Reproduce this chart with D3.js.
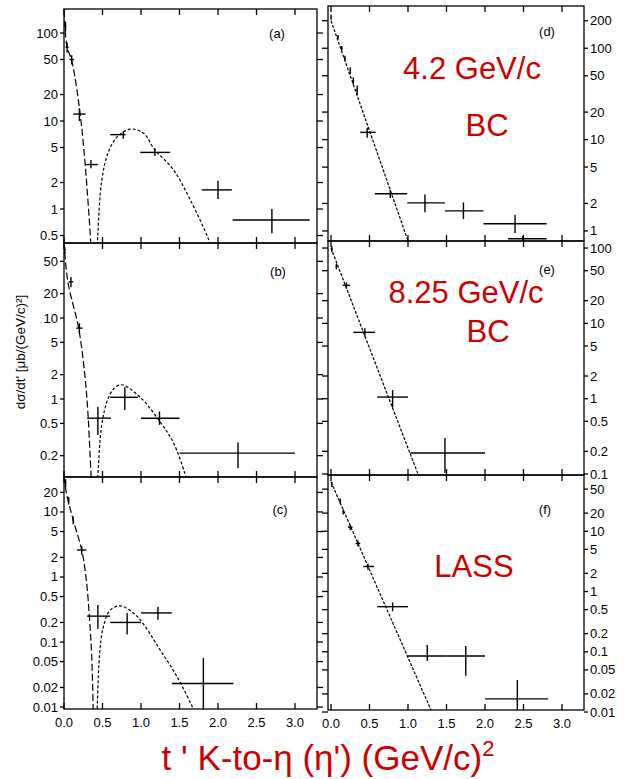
<!DOCTYPE html>
<html>
<head>
<meta charset="utf-8">
<script src="https://cdn.jsdelivr.net/npm/d3@7"></script>
<style>
  body { margin: 0; background: #fff; }
  svg { display: block; }
  text { font-family: "Liberation Sans", Arial, sans-serif; }
</style>
</head>
<body>
<svg id="chart" width="624" height="779"></svg>
<script>
// x ticks shared by all panels
const xTicks = [0, 0.5, 1, 1.5, 2, 2.5, 3];

// y tick values per panel
const ticksA = [100, 50, 20, 10, 5, 2, 1, 0.5];
const ticksB = [50, 20, 10, 5, 2, 1, 0.5, 0.2];
const ticksC = [20, 10, 5, 2, 1, 0.5, 0.2, 0.1, 0.05, 0.02, 0.01];
const ticksD = [200, 100, 50, 20, 10, 5, 2, 1];
const ticksE = [100, 50, 20, 10, 5, 2, 1, 0.5, 0.2, 0.1];
const ticksF = [50, 20, 10, 5, 2, 1, 0.5, 0.2, 0.1, 0.05, 0.02, 0.01];

// data points: [t', value, tLow, tHigh, valueLow, valueHigh]
const ptsA = [
  [0.02, 120, 0.01, 0.03, 105, 135],
  [0.04, 69, 0.02, 0.06, 60, 78],
  [0.1, 50, 0.07, 0.13, 44, 56],
  [0.2, 12, 0.12, 0.28, 10, 14],
  [0.35, 3.2, 0.27, 0.44, 2.9, 3.6],
  [0.77, 7.0, 0.6, 0.8, 6.3, 7.6],
  [1.18, 4.4, 0.99, 1.38, 4.0, 4.9],
  [2.0, 1.65, 1.79, 2.18, 1.3, 2.1],
  [2.7, 0.75, 2.19, 3.19, 0.53, 1.0]
];
const ptsB = [
  [0.01, 69, 0.0, 0.02, 62, 76],
  [0.09, 28, 0.06, 0.12, 24, 32],
  [0.2, 7.5, 0.16, 0.24, 6.5, 8.6],
  [0.44, 0.58, 0.3, 0.61, 0.36, 0.8],
  [0.79, 1.05, 0.6, 0.96, 0.73, 1.4],
  [1.24, 0.58, 1.0, 1.5, 0.48, 0.7],
  [2.26, 0.215, 1.5, 3.0, 0.14, 0.29]
];
const ptsC = [
  [0.02, 28, 0.01, 0.03, 24, 32],
  [0.06, 15, 0.05, 0.07, 13, 17],
  [0.12, 7.5, 0.11, 0.13, 6.5, 8.5],
  [0.23, 2.6, 0.17, 0.29, 2.2, 3.0],
  [0.44, 0.25, 0.3, 0.6, 0.16, 0.37],
  [0.82, 0.2, 0.6, 1.0, 0.13, 0.28],
  [1.22, 0.28, 1.0, 1.4, 0.22, 0.35],
  [1.81, 0.023, 1.4, 2.2, 0.008, 0.057]
];
const ptsD = [
  [0.0, 219, 0.0, 0.01, 205, 232],
  [0.09, 132, 0.08, 0.1, 124, 140],
  [0.14, 100, 0.13, 0.15, 94, 106],
  [0.18, 78, 0.17, 0.19, 73, 83],
  [0.25, 57, 0.24, 0.26, 52, 62],
  [0.29, 44, 0.28, 0.3, 40, 48],
  [0.34, 35, 0.33, 0.35, 31, 39],
  [0.47, 12, 0.38, 0.58, 10.5, 13.5],
  [0.77, 2.55, 0.57, 0.99, 2.3, 2.8],
  [1.22, 2.03, 0.99, 1.48, 1.6, 2.5],
  [1.72, 1.66, 1.48, 1.98, 1.35, 2.05],
  [2.39, 1.2, 1.98, 2.8, 0.95, 1.5],
  [2.49, 0.82, 2.3, 2.8, 0.78, 0.88]
];
const ptsE = [
  [0.01, 97, 0.0, 0.02, 88, 106],
  [0.07, 57, 0.06, 0.08, 52, 62],
  [0.2, 32, 0.15, 0.25, 29, 35],
  [0.44, 7.6, 0.29, 0.57, 6.7, 8.6],
  [0.8, 1.05, 0.6, 1.0, 0.76, 1.3],
  [1.48, 0.19, 1.03, 2.0, 0.103, 0.3]
];
const ptsF = [
  [0.01, 60, 0.0, 0.02, 54, 66],
  [0.12, 32, 0.11, 0.13, 29, 35],
  [0.16, 21, 0.15, 0.17, 19, 23],
  [0.25, 11.7, 0.22, 0.28, 10.4, 13],
  [0.35, 6.3, 0.32, 0.38, 5.6, 7.0],
  [0.48, 2.6, 0.42, 0.56, 2.3, 2.9],
  [0.8, 0.56, 0.6, 1.0, 0.47, 0.66],
  [1.25, 0.085, 1.0, 1.5, 0.07, 0.13],
  [1.75, 0.085, 1.5, 2.0, 0.04, 0.125],
  [2.42, 0.0165, 2.0, 2.82, 0.01, 0.034]
];

// fitted curves: [t', value]
const curveA1 = [[0, 180], [0.04, 69], [0.1, 49], [0.21, 12], [0.27, 3.6], [0.31, 1.27], [0.34, 0.53], [0.36, 0.2]];
const curveA2 = [[0.42, 0.2], [0.44, 0.53], [0.49, 2.1], [0.57, 4.3], [0.69, 6.6], [0.86, 8.1], [1.03, 7.3], [1.18, 4.7], [1.42, 2.8], [1.64, 1.27], [1.87, 0.47], [1.92, 0.35]];
const curveB1 = [[0, 85], [0.05, 28], [0.19, 7.5], [0.27, 2], [0.31, 0.69], [0.34, 0.19], [0.36, 0.08]];
const curveB2 = [[0.43, 0.08], [0.44, 0.115], [0.49, 0.48], [0.57, 1.0], [0.65, 1.35], [0.75, 1.5], [0.99, 1.05], [1.25, 0.52], [1.42, 0.29], [1.57, 0.12], [1.6, 0.09]];
const curveC1 = [[0, 35], [0.03, 20], [0.12, 7.5], [0.23, 2.6], [0.29, 0.9], [0.33, 0.24], [0.36, 0.06], [0.38, 0.008]];
const curveC2 = [[0.43, 0.008], [0.46, 0.06], [0.51, 0.17], [0.6, 0.31], [0.73, 0.36], [0.9, 0.28], [1.03, 0.19], [1.25, 0.075], [1.47, 0.029], [1.68, 0.0093], [1.7, 0.008]];
const lineD = [[0, 200], [1.0, 0.78]];
const lineE = [[0, 100], [1.13, 0.1]];
const lineF = [[0, 66], [1.31, 0.01]];

const svg = d3.select('#chart');
const red = '#cc0000';

// panel layout: frame box and log domain
const panels = [
  {name: '(a)', side: 'left', x0: 64, x1: 317, y0: 9, y1: 243, dom: [0.411, 187.5], ticks: ticksA, pts: ptsA, curves: [[curveA1, '7,3'], [curveA2, '3,2']], lx: 277, ly: 38},
  {name: '(b)', side: 'left', x0: 64, x1: 317, y0: 243, y1: 477, dom: [0.109, 84.3], ticks: ticksB, pts: ptsB, curves: [[curveB1, '7,3'], [curveB2, '3,2']], lx: 278, ly: 276},
  {name: '(c)', side: 'left', x0: 64, x1: 317, y0: 477, y1: 709, dom: [0.00933, 34.5], ticks: ticksC, pts: ptsC, curves: [[curveC1, '7,3'], [curveC2, '3,2']], lx: 280, ly: 514, xlabels: true},
  {name: '(d)', side: 'right', x0: 328, x1: 584, y0: 6, y1: 241, dom: [0.776, 290], ticks: ticksD, pts: ptsD, curves: [[lineD, '3,1.5']], lx: 547, ly: 36},
  {name: '(e)', side: 'right', x0: 328, x1: 584, y0: 241, y1: 475, dom: [0.097, 124], ticks: ticksE, pts: ptsE, curves: [[lineE, '3,1.5']], lx: 547, ly: 274},
  {name: '(f)', side: 'right', x0: 328, x1: 584, y0: 475, y1: 710, dom: [0.0108, 85.8], ticks: ticksF, pts: ptsF, curves: [[lineF, '3,1.5']], lx: 545, ly: 514, xlabels: true}
];

panels.forEach((p, i) => {
  let xStart = p.side === 'left' ? 64 : 331;
  let x = d3.scaleLinear().domain([0, 3]).range([xStart, xStart + 231]);
  let y = d3.scaleLog().domain(p.dom).range([p.y1, p.y0]);
  let g = svg.append('g');

  // clip for marks
  let clipId = 'clip' + i;
  svg.append('clipPath').attr('id', clipId)
    .append('rect').attr('x', p.x0).attr('y', p.y0)
    .attr('width', p.x1 - p.x0).attr('height', p.y1 - p.y0);

  g.append('rect')
    .attr('x', p.x0).attr('y', p.y0)
    .attr('width', p.x1 - p.x0).attr('height', p.y1 - p.y0)
    .attr('fill', 'none').attr('stroke', '#000').attr('stroke-width', 1.3);

  // x ticks top and bottom, pointing in
  xTicks.forEach((t) => {
    g.append('line').attr('x1', x(t)).attr('x2', x(t))
      .attr('y1', p.y1).attr('y2', p.y1 - 6)
      .attr('stroke', '#000').attr('stroke-width', 1.3);
    g.append('line').attr('x1', x(t)).attr('x2', x(t))
      .attr('y1', p.y0).attr('y2', p.y0 + 6)
      .attr('stroke', '#000').attr('stroke-width', 1.3);
  });
  if (p.xlabels) {
    g.selectAll('.xl').data(xTicks).enter().append('text')
      .attr('x', (d) => x(d)).attr('y', p.y1 + 18)
      .attr('text-anchor', 'middle')
      .attr('font-size', 13)
      .text(d3.format('.1f'));
  }

  // y axis: labels on outer side
  let outer = p.side === 'left' ? p.x0 : p.x1;
  let inner = p.side === 'left' ? p.x1 : p.x0;
  let dir = p.side === 'left' ? -1 : 1;
  p.ticks.forEach((v) => {
    g.append('line').attr('x1', outer).attr('x2', outer + dir * 4)
      .attr('y1', y(v)).attr('y2', y(v))
      .attr('stroke', '#000').attr('stroke-width', 1.3);
    g.append('line').attr('x1', inner).attr('x2', inner - dir * 6)
      .attr('y1', y(v)).attr('y2', y(v))
      .attr('stroke', '#000').attr('stroke-width', 1.3);
    g.append('text')
      .attr('x', outer + dir * 6).attr('y', y(v) + 4.5)
      .attr('text-anchor', p.side === 'left' ? 'end' : 'start')
      .attr('font-size', 13)
      .text(v);
  });

  g.append('text').attr('x', p.lx).attr('y', p.ly)
    .attr('font-size', 13).attr('text-anchor', 'middle').text(p.name);

  let marks = svg.append('g').attr('clip-path', 'url(#' + clipId + ')');

  let line = d3.line()
    .x((d) => x(d[0]))
    .y((d) => y(d[1]))
    .curve(d3.curveCatmullRom);
  p.curves.forEach((c) => {
    marks.append('path')
      .attr('d', line(c[0]))
      .attr('fill', 'none')
      .attr('stroke', '#000')
      .attr('stroke-width', 1.2)
      .attr('stroke-dasharray', c[1]);
  });

  // error bars
  p.pts.forEach((d) => {
    marks.append('line')
      .attr('x1', x(d[2])).attr('x2', x(d[3]))
      .attr('y1', y(d[1])).attr('y2', y(d[1]))
      .attr('stroke', '#000').attr('stroke-width', 1.4);
    marks.append('line')
      .attr('x1', x(d[0])).attr('x2', x(d[0]))
      .attr('y1', y(d[4])).attr('y2', y(d[5]))
      .attr('stroke', '#000').attr('stroke-width', 1.4);
  });
});

// y axis title
svg.append('text')
  .attr('transform', 'translate(25,352) rotate(-90)')
  .attr('text-anchor', 'middle')
  .attr('font-size', 13.5)
  .text('dσ/dt\'  [μb/(GeV/c)²]');

// red annotations
const notes = [
  {text: '4.2 GeV/c', x: 472, y: 79},
  {text: 'BC', x: 487, y: 136},
  {text: '8.25 GeV/c', x: 466, y: 303},
  {text: 'BC', x: 488, y: 342},
  {text: 'LASS', x: 474, y: 577}
];
svg.selectAll('.note').data(notes).enter().append('text')
  .attr('x', (d) => d.x).attr('y', (d) => d.y)
  .attr('text-anchor', 'middle')
  .attr('font-size', 31)
  .attr('fill', red)
  .text((d) => d.text);

// x axis title
let title = svg.append('text')
  .attr('x', 328).attr('y', 770)
  .attr('text-anchor', 'middle')
  .attr('font-size', 35)
  .attr('fill', red);
title.append('tspan').text('t \' K-to-η  (η\') (GeV/c)');
title.append('tspan').attr('dy', -14).attr('font-size', 22).text('2');
</script>
</body>
</html>
